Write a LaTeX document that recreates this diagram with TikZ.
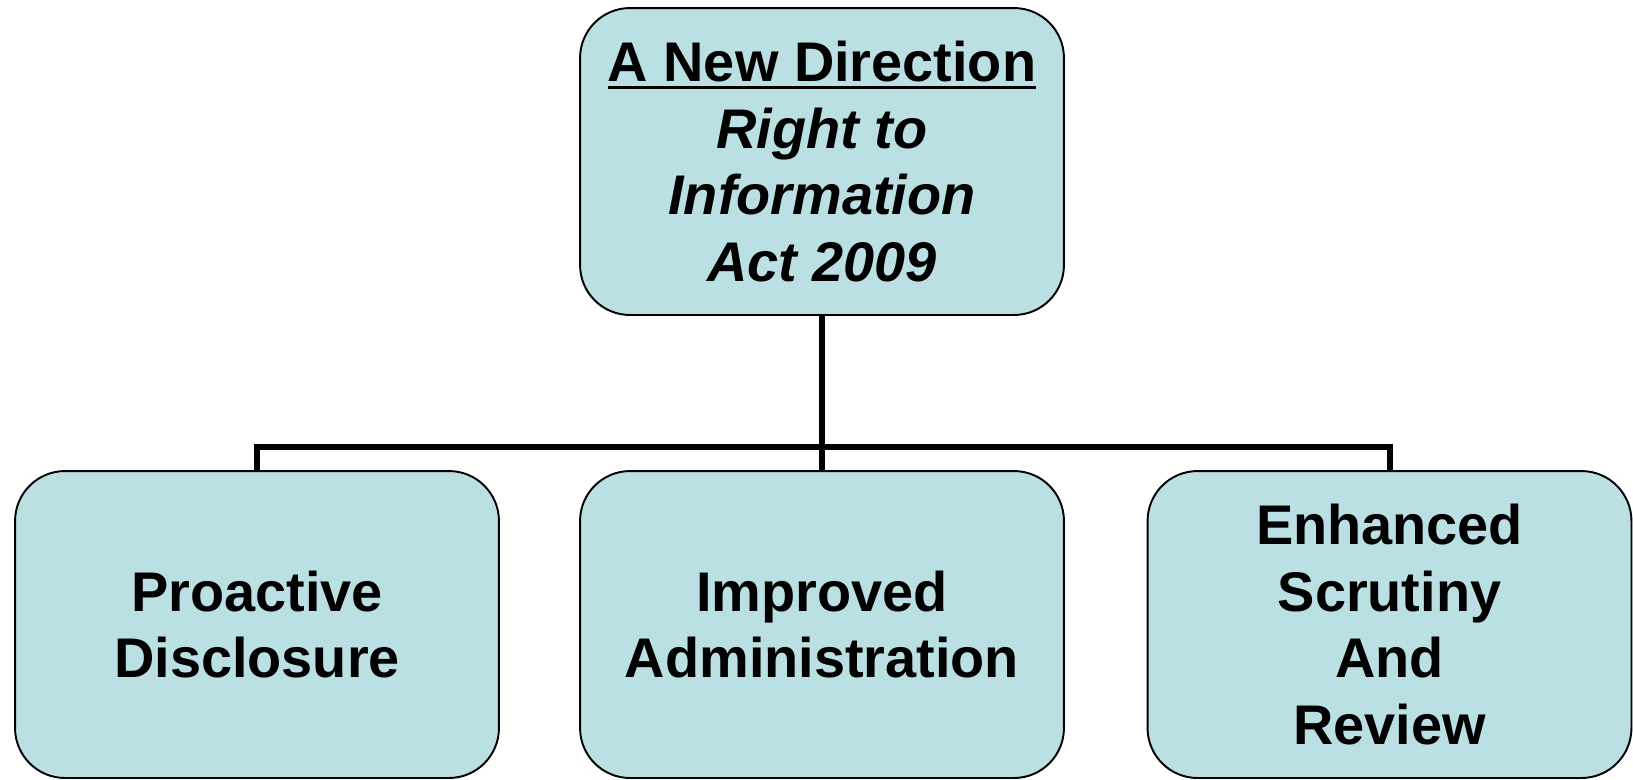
\documentclass[tikz,border=0pt]{standalone}
\usepackage{fontspec}
\setmainfont{Liberation Sans}
\usepackage{tikz}
\usetikzlibrary{calc, positioning}

\definecolor{boxblue}{RGB}{187,224,227}
\newcommand{\headrule}[1]{\vtop{\hbox{#1}\kern2.2pt\hrule height 1.5pt}}

\tikzset{
  rtibox/.style={draw=black, line width=1.1pt, fill=boxblue, rounded corners=1cm,
    minimum width=9.68cm, minimum height=6.14cm, align=center,
    font=\fontsize{31.8}{37.8}\selectfont\bfseries},
  link/.style={draw=black, line width=3.4pt}
}

\begin{document}
\begin{tikzpicture}[x=0.02cm,y=-0.02cm]
%frame
\useasboundingbox (0,0) rectangle (1633,779);

\node[rtibox] (act) at (822,161.5) {\headrule{A New Direction}\\ \itshape Right to\\ \itshape Information\\ \itshape Act 2009};

\node[rtibox] (proactive) at (257,624.5) {Proactive\\Disclosure};
\node[rtibox] (improved) at (822,624.5) {Improved\\Administration};
\node[rtibox] (scrutiny) at (1389.5,624.5) {Enhanced\\Scrutiny\\And\\Review};

\coordinate (bus) at (822,447);
\draw[link] (act.south) -- (improved.north);
\draw[link] (proactive.north) |- (bus) -| (scrutiny.north);
\end{tikzpicture}
\end{document}
